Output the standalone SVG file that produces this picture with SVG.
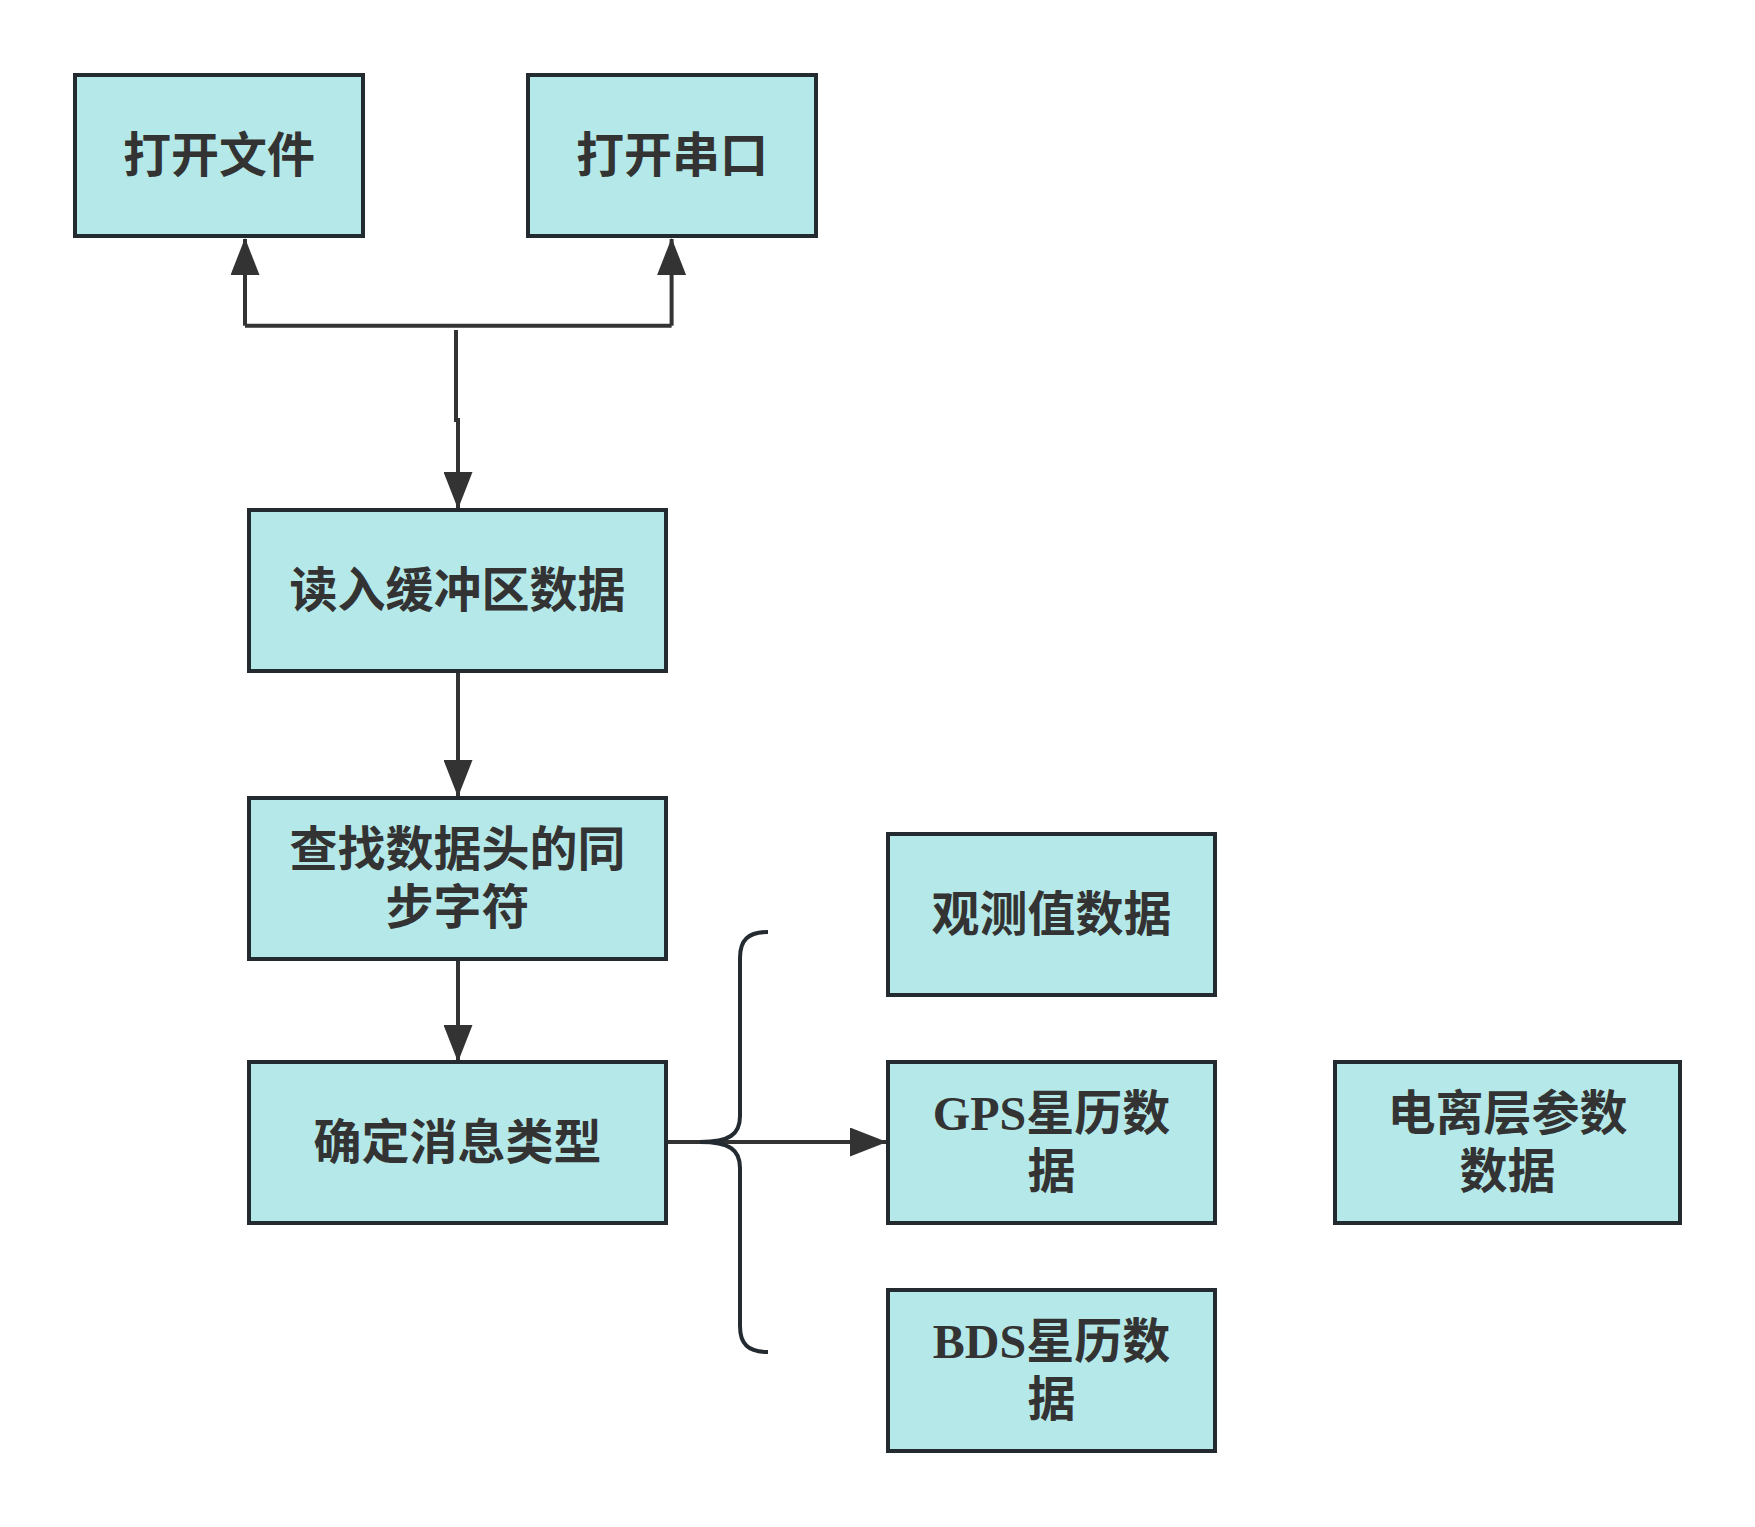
<svg xmlns="http://www.w3.org/2000/svg" width="1755" height="1527" viewBox="0 0 1755 1527">
<style>
.box{fill:#b5e9e9;stroke:#232a30;stroke-width:4}
.t{font-family:"Liberation Serif","Noto Sans CJK SC",serif;font-weight:bold;font-size:48px;fill:#333;text-anchor:middle;dominant-baseline:central}
.c{fill:none;stroke:#333;stroke-width:4}
.brace{fill:none;stroke:#232a30;stroke-width:4}
</style>
<defs>
<marker id="arr" markerUnits="userSpaceOnUse" markerWidth="37" markerHeight="29" viewBox="0 0 37 29" refX="36" refY="14.5" orient="auto">
<path d="M0,0 L37,14.5 L0,29 Z" fill="#333"/>
</marker>
</defs>
<rect width="1755" height="1527" fill="#fff"/>
<g id="connectors">
<path class="c" d="M456,330 L456,420 L458,420 L458,508" marker-end="url(#arr)"/>
<path class="c" d="M245,325.7 L671.6,325.7"/>
<path class="c" d="M245,325.7 L245,239" marker-end="url(#arr)"/>
<path class="c" d="M671.6,325.7 L671.6,239" marker-end="url(#arr)"/>
<path class="c" d="M458,673 L458,796" marker-end="url(#arr)"/>
<path class="c" d="M458,960 L458,1061" marker-end="url(#arr)"/>
<path class="c" d="M667,1142 L886,1142" marker-end="url(#arr)"/>
<path class="brace" d="M768,932 C748,932 740,940 740,958 L740,1116 C740,1134 730,1142 700,1142 C730,1142 740,1150 740,1168 L740,1326 C740,1344 748,1352 768,1352"/>
</g>
<g id="n1"><rect class="box" x="75" y="75" width="288" height="161"/><text class="t" x="219" y="155.5">打开文件</text></g>
<g id="n2"><rect class="box" x="528" y="75" width="288" height="161"/><text class="t" x="672" y="155.5">打开串口</text></g>
<g id="n3"><rect class="box" x="249" y="510" width="417" height="161"/><text class="t" x="457.5" y="590.5">读入缓冲区数据</text></g>
<g id="n4"><rect class="box" x="249" y="798" width="417" height="161"/><text class="t" x="457.5" y="849.5">查找数据头的同</text><text class="t" x="457.5" y="907.5">步字符</text></g>
<g id="n5"><rect class="box" x="249" y="1062" width="417" height="161"/><text class="t" x="457.5" y="1142.5">确定消息类型</text></g>
<g id="n6"><rect class="box" x="888" y="834" width="327" height="161"/><text class="t" x="1051.5" y="914.5">观测值数据</text></g>
<g id="n7"><rect class="box" x="888" y="1062" width="327" height="161"/><text class="t" x="1051.5" y="1113.5">GPS星历数</text><text class="t" x="1051.5" y="1171.5">据</text></g>
<g id="n8"><rect class="box" x="888" y="1290" width="327" height="161"/><text class="t" x="1051.5" y="1341.5">BDS星历数</text><text class="t" x="1051.5" y="1399.5">据</text></g>
<g id="n9"><rect class="box" x="1335" y="1062" width="345" height="161"/><text class="t" x="1507.5" y="1113.5">电离层参数</text><text class="t" x="1507.5" y="1171.5">数据</text></g>
</svg>
